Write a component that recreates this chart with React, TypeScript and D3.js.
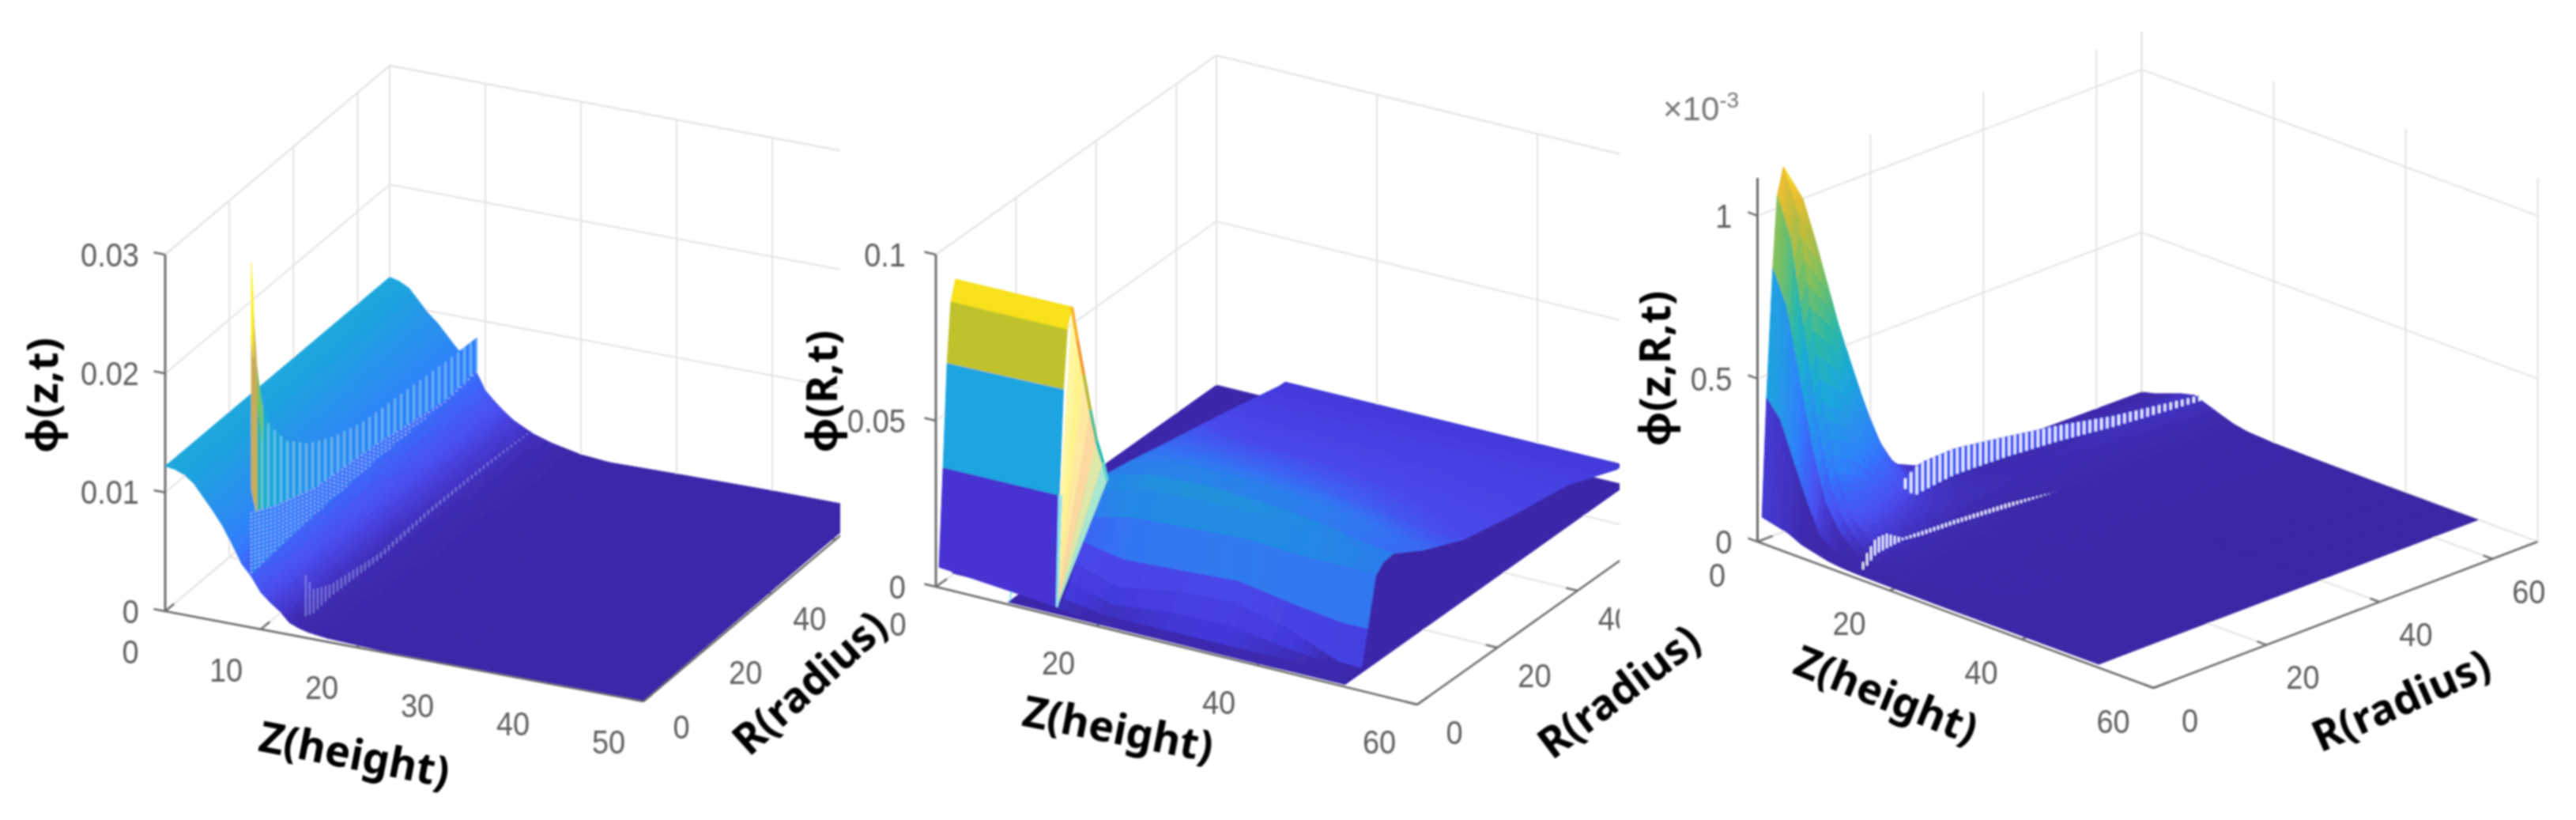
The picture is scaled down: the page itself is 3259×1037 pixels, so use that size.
import React from "react";
import * as d3 from "d3";

// ---------- colour ramps ----------
const rampStops = [0, 0.03, 0.06, 0.1, 0.17, 0.22, 0.33, 0.41, 0.55, 0.7, 0.85, 0.93, 1];
const rampColors = ["#3c26a6", "#3d2bb0", "#4438d0", "#4a4ff0", "#3a68f8", "#2f80fb", "#2596e8", "#1aa8dc", "#2bb8a8", "#7cc060", "#c8bc38", "#f0c030", "#f9ee20"];
const ramp2Stops = [0, 0.03, 0.07, 0.2, 0.28, 0.39, 0.55, 0.7, 0.85, 1];
const ramp2Colors = ["#3b27a8", "#3c2cb0", "#4238d8", "#4a48ea", "#3572f5", "#2090e0", "#2bb8a8", "#7cc060", "#c8bc38", "#f9ee20"];

// ---------- panel 1 : phi(z,t) ----------
const p1ZTicks = [0, 10, 20, 30, 40, 50];
const p1RTicks = [0, 20, 40, 60];
const p1PhiTicks = [0, 0.01, 0.02, 0.03];
const p1PhiLabels = ["0", "0.01", "0.02", "0.03"];
const p1Z = [0, 1, 2, 3, 4, 5, 6, 7, 8, 9, 10, 11, 12, 13, 14, 15, 17, 20, 23, 30, 40, 50];
const p1R = [0, 70];
const p1NearR = [0.0122, 0.0121, 0.0118, 0.0112, 0.0102, 0.0092, 0.0081, 0.0067, 0.0052, 0.0043, 0.0031, 0.0024, 0.0018, 0.001, 0.0007, 0.0005, 0.0003, 0.0002, 0.0001, 0.0001, 0.0001, 0.0001];
const p1FarR = [0.0122, 0.012, 0.0116, 0.0107, 0.0098, 0.0091, 0.0082, 0.0073, 0.0066, 0.0057, 0.0042, 0.0034, 0.0027, 0.0021, 0.0017, 0.0013, 0.0008, 0.0003, 0.0001, 0.0002, 0.0003, 0.0003];
const p1SpikeZ = 9;
const p1YellowR = [0, 0.7];
const p1YellowTop = [0.0307, 0.0272];
const p1YellowBot = [0.0243, 0.0225];
const p1GoldR = [0, 0.7, 1.8];
const p1GoldTop = [0.0243, 0.0262, 0.0214];
const p1GoldBot = [0.0117, 0.0105, 0.0093];
const p1GreenR = [1.8, 3.5];
const p1GreenTop = [0.0214, 0.0176];
const p1GreenBot = [0.0185, 0.015];
const p1Fin1R = [1.4, 3, 5.5, 11, 18, 26, 34.6, 48, 60.7, 70];
const p1Fin1Top = [0.0214, 0.0184, 0.0158, 0.0132, 0.0114, 0.0102, 0.0094, 0.009, 0.0086, 0.0084];
const p1Fin1Bot = [0.0095, 0.0092, 0.0088, 0.008, 0.0073, 0.0069, 0.0065, 0.006, 0.0054, 0.0056];
const p1Fin2R = [0, 7, 20, 40, 60, 70];
const p1Fin2Top = [0.0097, 0.0086, 0.0072, 0.0065, 0.0053, 0.0056];
const p1Fin2Bot = [0.0045, 0.0047, 0.005, 0.0052, 0.0052, 0.0054];
const p1Fin3Z = 14.7;
const p1Fin3R = [0, 2.5, 8, 23, 39.6, 56, 70];
const p1Fin3Top = [0.0053, 0.0035, 0.0027, 0.0019, 0.0021, 0.0019, 0.0015];
const p1Fin3Bot = [0.0018, 0.0015, 0.0017, 0.0014, 0.0017, 0.0016, 0.0014];

// ---------- panel 2 : phi(R,t) ----------
const p2ZTicks = [0, 20, 40, 60];
const p2RTicks = [0, 20, 40, 60];
const p2PhiTicks = [0, 0.05, 0.1];
const p2PhiLabels = ["0", "0.05", "0.1"];
const p2FloorZ = [9, 51];
const p2FloorR = [0, 70];
const p2BackFloorZ = [0, 9];
const p2BackFloorR = [4, 70];
const p2MainR = [0, 1.5, 3, 4.5, 6, 8, 10, 12.5, 20, 30, 43, 56, 68, 70];
const p2MainZStart = [15.2, 15.2, 15.2, 15.1, 15.1, 15, 15, 15, 14.2, 13, 11.7, 10.2, 8.8, 8.6];
const p2MainZEnd = 50.8;
const p2MainCols = [0, 0.15, 0.35, 0.55, 0.75, 0.92, 1];
const p2MainPhi = [
  [0.0025, 0.001, 0.0008, 0.0006, 0.0006, 0.001, 0.0015],
  [0.004, 0.002, 0.002, 0.002, 0.002, 0.0018, 0.0016],
  [0.008, 0.004, 0.006, 0.0065, 0.004, 0.002, 0.0016],
  [0.012, 0.008, 0.011, 0.012, 0.008, 0.0018, 0.0016],
  [0.0175, 0.015, 0.016, 0.017, 0.014, 0.012, 0.0122],
  [0.023, 0.026, 0.027, 0.028, 0.027, 0.027, 0.0265],
  [0.029, 0.033, 0.034, 0.034, 0.033, 0.031, 0.029],
  [0.032, 0.035, 0.036, 0.035, 0.033, 0.03, 0.0294],
  [0.029, 0.031, 0.031, 0.03, 0.028, 0.025, 0.024],
  [0.0243, 0.0245, 0.024, 0.023, 0.021, 0.019, 0.0186],
  [0.0189, 0.018, 0.0175, 0.017, 0.016, 0.0155, 0.0152],
  [0.013, 0.013, 0.013, 0.013, 0.013, 0.0127, 0.0127],
  [0.0073, 0.0073, 0.0072, 0.0072, 0.0071, 0.007, 0.007],
  [0.0067, 0.0067, 0.0067, 0.0067, 0.0067, 0.0067, 0.0067],
];
const p2BlockZ = [0, 14.5];
const p2BlockR = [0.8, 1.8, 2.8, 3.75, 4.9];
const p2BlockStart = [0.0052, 0.0342, 0.0648, 0.0825, 0.0884];
const p2BlockEnd = [0.002, 0.0344, 0.0655, 0.0827, 0.0886];
const p2BlockColors = ["#4632d2", "#1ea5e0", "#bfc22a", "#f6e11e"];
const p2FanApex = [14.7, 0.8, 0.002];
const p2FanZ = [14.5, 15.2, 16, 16.8, 17.6, 18.4, 18.9];
const p2FanPhi = [0.0886, 0.079, 0.069, 0.059, 0.05, 0.044, 0.039];
const p2FanColors = ["#fff7a0", "#fff38e", "#ffe8a0", "#fdd9a0", "#dfe8a8", "#a8e8d0"];
const p2EdgeColors = ["#f6b020", "#f09a30", "#b8b830", "#50c090", "#18b8b0", "#60d8d0"];
const p2SmallZ = 9.2;
const p2SmallR = [0, 1.2, 2.2];
const p2SmallTop = [0.002, 0.012, 0.012];
const p2SmallBot = [0.001, 0.006, 0.0105];

// ---------- panel 3 : phi(z,R,t) ----------
const p3ZTicks = [0, 20, 40, 60];
const p3RTicks = [0, 20, 40, 60];
const p3PhiTicks = [0, 0.5, 1];
const p3PhiLabels = ["0", "0.5", "1"];
const p3R = [0.8, 1.6, 2.7, 3.5, 4.6, 8, 12, 18, 21, 24, 29, 36, 44, 56, 68];
const p3Z = [0, 2, 4, 6, 8, 10, 12, 14, 16, 20, 26, 34, 51];
const p3Phi = [
  [0.07, 0.43, 0.82, 1.04, 1.12, 1.0, 0.68, 0.27, 0.14, 0.08, 0.04, 0.025, 0.015, 0.012, 0.01],
  [0.06, 0.38, 0.72, 0.92, 1.0, 0.88, 0.6, 0.24, 0.13, 0.075, 0.04, 0.03, 0.022, 0.02, 0.02],
  [0.05, 0.27, 0.52, 0.66, 0.72, 0.64, 0.44, 0.18, 0.1, 0.065, 0.04, 0.033, 0.03, 0.03, 0.035],
  [0.03, 0.16, 0.31, 0.4, 0.44, 0.39, 0.27, 0.12, 0.075, 0.055, 0.04, 0.035, 0.035, 0.04, 0.05],
  [0.02, 0.07, 0.16, 0.21, 0.24, 0.21, 0.15, 0.08, 0.06, 0.05, 0.04, 0.037, 0.037, 0.045, 0.06],
  [0.01, 0.04, 0.09, 0.12, 0.14, 0.13, 0.09, 0.06, 0.05, 0.045, 0.04, 0.036, 0.035, 0.04, 0.045],
  [0.005, 0.025, 0.05, 0.07, 0.085, 0.08, 0.06, 0.045, 0.04, 0.035, 0.03, 0.028, 0.025, 0.028, 0.03],
  [0.003, 0.012, 0.03, 0.04, 0.05, 0.05, 0.04, 0.03, 0.028, 0.025, 0.02, 0.018, 0.016, 0.016, 0.016],
  [0.002, 0.006, 0.015, 0.02, 0.027, 0.03, 0.025, 0.02, 0.018, 0.015, 0.012, 0.01, 0.009, 0.008, 0.008],
  [0.001, 0.002, 0.004, 0.006, 0.009, 0.012, 0.01, 0.008, 0.007, 0.006, 0.005, 0.004, 0.003, 0.003, 0.003],
  [0.0, 0.001, 0.001, 0.002, 0.003, 0.004, 0.004, 0.003, 0.003, 0.002, 0.002, 0.001, 0.001, 0.001, 0.001],
  [0, 0, 0, 0, 0.001, 0.001, 0.001, 0.001, 0.001, 0.001, 0, 0, 0, 0, 0],
  [0, 0, 0, 0, 0, 0, 0, 0, 0, 0, 0, 0, 0, 0, 0],
];
const p3FinAZ = 8.76;
const p3FinAR = [14.9, 17.6, 18.6, 24.6, 34, 43.3, 52.7, 68];
const p3FinATop = [0.142, 0.175, 0.185, 0.189, 0.164, 0.137, 0.103, 0.065];
const p3FinABot = [0.142, 0.09, 0.095, 0.109, 0.103, 0.09, 0.07, 0.048];
const p3FinBZ = 15.4;
const p3FinBR = [0, 1.1, 3, 4.9, 7.7, 11, 17, 26, 34.7];
const p3FinBTop = [0.02, 0.064, 0.107, 0.107, 0.076, 0.074, 0.07, 0.06, 0.039];
const p3FinBBot = [0.02, 0.028, 0.058, 0.063, 0.069, 0.062, 0.058, 0.047, 0.039];

// ---------- page ----------
const WIDTH = 3259;
const HEIGHT = 1037;
const TICK_FONT = "'Liberation Sans', Arial, sans-serif";
const LABEL_FONT = "'Noto Sans', 'Open Sans', sans-serif";

const ramp = d3.scaleLinear<string>().domain(rampStops).range(rampColors).clamp(true);
const ramp2 = d3.scaleLinear<string>().domain(ramp2Stops).range(ramp2Colors).clamp(true);

type Geo = {
  ox: number; oy: number; zx: number; zy: number; rx: number; ry: number; h: number;
  zMax: number; rMax: number; phiMax: number; colorMax: number; colors: (t: number) => string;
};

function projector(g: Geo) {
  const zs = d3.scaleLinear().domain([0, g.zMax]).range([0, 1]);
  const rs = d3.scaleLinear().domain([0, g.rMax]).range([0, 1]);
  const ps = d3.scaleLinear().domain([0, g.phiMax]).range([0, g.h]);
  return (z: number, r: number, p: number): [number, number] => [
    g.ox + zs(z) * g.zx + rs(r) * g.rx,
    g.oy + zs(z) * g.zy + rs(r) * g.ry - ps(p),
  ];
}

function poly(pts: [number, number][]) {
  const path = d3.path();
  pts.forEach((q, i) => (i ? path.lineTo(q[0], q[1]) : path.moveTo(q[0], q[1])));
  path.closePath();
  return path.toString();
}

type Vtx = [number, number, number];

// rows run along R, columns along Z; painted far (high R) to near, low Z to high Z.
// The first flatRows rows take the colour of one edge (flatEdge), like MATLAB's faceted cells.
function Mesh({ g, rows, su, sv, flat, flatRows = 0, flatEdge = 0 }: { g: Geo; rows: Vtx[][]; su: number; sv: number; flat?: (i: number) => string; flatRows?: number; flatEdge?: number }) {
  const proj = projector(g);
  const color = (p: number) => g.colors(p / g.colorMax);
  const out: React.ReactNode[] = [];
  const at = (i: number, j: number, u: number, v: number): Vtx => {
    const a = rows[i][j], b = rows[i][j + 1], c = rows[i + 1][j], d = rows[i + 1][j + 1];
    const m = (k: number) => (1 - v) * ((1 - u) * a[k] + u * b[k]) + v * ((1 - u) * c[k] + u * d[k]);
    return [m(0), m(1), m(2)];
  };
  for (let i = rows.length - 2; i >= 0; i--) {
    for (let sr = sv - 1; sr >= 0; sr--) {
      for (let j = 0; j < rows[i].length - 1; j++) {
        for (let sz = 0; sz < su; sz++) {
          const u0 = sz / su, u1 = (sz + 1) / su, v0 = sr / sv, v1 = (sr + 1) / sv;
          const q = [at(i, j, u0, v0), at(i, j, u1, v0), at(i, j, u1, v1), at(i, j, u0, v1)];
          const mean = i < flatRows
            ? at(i, j, (u0 + u1) / 2, flatEdge)[2]
            : (q[0][2] + q[1][2] + q[2][2] + q[3][2]) / 4;
          const fill = flat ? flat(i) : color(mean);
          out.push(
            <path key={`${i}-${sr}-${j}-${sz}`} d={poly(q.map((t) => proj(t[0], t[1], t[2])))} fill={fill} stroke={fill} strokeWidth={1} />
          );
        }
      }
    }
  }
  return <g>{out}</g>;
}

function Solid({ g, z, rs, top, bot, fill }: { g: Geo; z: number; rs: number[]; top: number[]; bot: number[]; fill: string }) {
  const proj = projector(g);
  const pts: [number, number][] = [
    ...rs.map((r, i) => proj(z, r, top[i])),
    ...rs.map((r, i) => proj(z, r, bot[i])).reverse(),
  ];
  return <path d={poly(pts)} fill={fill} stroke={fill} strokeWidth={0.6} />;
}

// a thin fin in the plane z = const, shown as the aliased stripes of the original mesh
function Fin({ g, z, rs, top, bot, spacing, stripe, width, opacity, dash, backing }: {
  g: Geo; z: number; rs: number[]; top: number[]; bot: number[]; spacing: number; stripe: string;
  width: number; opacity: number; dash?: string; backing?: number;
}) {
  const proj = projector(g);
  const tScale = d3.scaleLinear().domain(rs).range(top);
  const bScale = d3.scaleLinear().domain(rs).range(bot);
  const pxPerR = Math.abs(g.rx / g.rMax);
  const step = spacing / pxPerR;
  const samples = d3.range(rs[0], rs[rs.length - 1] + step * 0.5, step);
  const back = samples.slice(0, -1).map((r, i) => {
    const r2 = samples[i + 1];
    const p = (tScale(r) + bScale(r)) / 2;
    const fill = g.colors(p / g.colorMax);
    return (
      <path key={`b${i}`} d={poly([proj(z, r, tScale(r)), proj(z, r2, tScale(r2)), proj(z, r2, bScale(r2)), proj(z, r, bScale(r))])}
        fill={fill} stroke={fill} strokeWidth={0.6} opacity={backing ?? 1} />
    );
  });
  const lines = samples.map((r, i) => {
    const a = proj(z, r, tScale(r));
    const b = proj(z, r, bScale(r));
    return <line key={`s${i}`} x1={a[0]} y1={a[1]} x2={b[0]} y2={b[1]} stroke={stripe} strokeWidth={width} opacity={opacity} strokeDasharray={dash} />;
  });
  return <g>{back}{lines}</g>;
}

function Box({ g, zTicks, rTicks, phiTicks, gridTop }: {
  g: Geo; zTicks: number[]; rTicks: number[]; phiTicks: number[]; gridTop: boolean;
}) {
  const proj = projector(g);
  const grid = "#e3e3e3";
  const seg = (a: [number, number], b: [number, number], key: string, stroke = grid, w = 2) => (
    <line key={key} x1={a[0]} y1={a[1]} x2={b[0]} y2={b[1]} stroke={stroke} strokeWidth={w} />
  );
  const gridLines: React.ReactNode[] = [];
  zTicks.forEach((z) => {
    gridLines.push(seg(proj(z, 0, 0), proj(z, g.rMax, 0), `fz${z}`));
    gridLines.push(seg(proj(z, g.rMax, 0), proj(z, g.rMax, g.phiMax), `wz${z}`));
  });
  rTicks.forEach((r) => {
    gridLines.push(seg(proj(0, r, 0), proj(g.zMax, r, 0), `fr${r}`));
    gridLines.push(seg(proj(0, r, 0), proj(0, r, g.phiMax), `wr${r}`));
  });
  phiTicks.forEach((p) => {
    gridLines.push(seg(proj(0, 0, p), proj(0, g.rMax, p), `lp${p}`));
    gridLines.push(seg(proj(0, g.rMax, p), proj(g.zMax, g.rMax, p), `bp${p}`));
  });
  gridLines.push(seg(proj(0, g.rMax, 0), proj(0, g.rMax, g.phiMax), "corner"));
  if (gridTop) {
    gridLines.push(seg(proj(0, 0, g.phiMax), proj(0, g.rMax, g.phiMax), "t1"));
    gridLines.push(seg(proj(0, g.rMax, g.phiMax), proj(g.zMax, g.rMax, g.phiMax), "t2"));
  }
  return <g>{gridLines}</g>;
}

function Axes({ g, zTicks, rTicks, phiTicks, phiLabels, zOff, rOff, phiOff }: {
  g: Geo; zTicks: number[]; rTicks: number[]; phiTicks: number[]; phiLabels: string[];
  zOff: [number, number]; rOff: [number, number]; phiOff: number;
}) {
  const proj = projector(g);
  const axis = "#6a6a6a";
  const seg = (a: [number, number], b: [number, number], key: string, w = 2.5) => (
    <line key={key} x1={a[0]} y1={a[1]} x2={b[0]} y2={b[1]} stroke={axis} strokeWidth={w} />
  );
  const dz = g.zMax * 0.024;
  const dr = g.rMax * 0.04;
  const label = (x: number, y: number, s: string, anchor: string, key: string) => (
    <text key={key} transform={`translate(${x},${y}) scale(1,1.12)`} textAnchor={anchor} dominantBaseline="central"
      fontFamily={TICK_FONT} fontSize={38} fill="#5e5e5e">{s}</text>
  );
  return (
    <g>
      {seg(proj(0, 0, 0), proj(g.zMax, 0, 0), "zaxis")}
      {seg(proj(g.zMax, 0, 0), proj(g.zMax, g.rMax, 0), "raxis")}
      {seg(proj(0, 0, 0), proj(0, 0, g.phiMax), "paxis", 3)}
      {zTicks.map((z) => {
        const a = proj(z, 0, 0);
        return (
          <g key={`z${z}`}>
            {seg(a, proj(z, dr, 0), `tz${z}`)}
            {label(a[0] + zOff[0], a[1] + zOff[1], String(z), "middle", `lz${z}`)}
          </g>
        );
      })}
      {rTicks.map((r) => {
        const a = proj(g.zMax, r, 0);
        return (
          <g key={`r${r}`}>
            {seg(a, proj(g.zMax - dz, r, 0), `tr${r}`)}
            {label(a[0] + rOff[0], a[1] + rOff[1], String(r), "middle", `lr${r}`)}
          </g>
        );
      })}
      {phiTicks.map((p, i) => {
        const a = proj(0, 0, p);
        return (
          <g key={`p${p}`}>
            {seg(a, proj(-dz, 0, p), `tp${p}`)}
            {label(a[0] + phiOff, a[1], phiLabels[i], "end", `lp${p}`)}
          </g>
        );
      })}
    </g>
  );
}

function AxisTitle({ x, y, rot, children }: { x: number; y: number; rot: number; children: React.ReactNode }) {
  return (
    <text transform={`translate(${x},${y}) rotate(${rot})`} textAnchor="middle" dominantBaseline="central"
      fontFamily={LABEL_FONT} fontWeight={700} fontSize={54} fill="#000">{children}</text>
  );
}

const geo1: Geo = { ox: 209, oy: 773, zx: 605, zy: 114, rx: 284, ry: -239, h: 451, zMax: 50, rMax: 70, phiMax: 0.03, colorMax: 0.03, colors: ramp };
const geo2: Geo = { ox: 1184, oy: 742, zx: 609, zy: 149, rx: 355, ry: -252, h: 420, zMax: 60, rMax: 70, phiMax: 0.1, colorMax: 0.09, colors: ramp2 };
const geo3: Geo = { ox: 2223.5, oy: 685, zx: 501, zy: 185, rx: 486, ry: -185, h: 460, zMax: 60, rMax: 68, phiMax: 1.116, colorMax: 1.12, colors: ramp };

const p1Rows: Vtx[][] = p1R.map((r, i) => p1Z.map((z, j): Vtx => [z, r, (i === 0 ? p1NearR : p1FarR)[j]]));
const p2FloorRows: Vtx[][] = p2FloorR.map((r) => p2FloorZ.map((z): Vtx => [z, r, 0.0007]));
const p2BackRows: Vtx[][] = p2BackFloorR.map((r) => p2BackFloorZ.map((z): Vtx => [z, r, 0.0007]));
const p2MainRows: Vtx[][] = p2MainR.map((r, i) =>
  p2MainCols.map((c, j): Vtx => [p2MainZStart[i] + c * (p2MainZEnd - p2MainZStart[i]), r, p2MainPhi[i][j]])
);
const p2BlockRows: Vtx[][] = p2BlockR.map((r, i) => [[p2BlockZ[0], r, p2BlockStart[i]] as Vtx, [p2BlockZ[1], r, p2BlockEnd[i]] as Vtx]);
const p3Rows: Vtx[][] = p3R.map((r, i) => p3Z.map((z, j): Vtx => [z, r, p3Phi[j][i]]));

function Fan() {
  const proj = projector(geo2);
  const rim = p2FanZ.map((z, i) => proj(z, p2BlockR[4], p2FanPhi[i]));
  const apex = proj(p2FanApex[0], p2FanApex[1], p2FanApex[2]);
  return (
    <g>
      {p2FanColors.map((c, i) => (
        <path key={i} d={poly([apex, rim[i], rim[i + 1]])} fill={c} stroke={c} strokeWidth={0.6} />
      ))}
      {p2EdgeColors.map((c, i) => (
        <line key={`e${i}`} x1={rim[i][0]} y1={rim[i][1]} x2={rim[i + 1][0]} y2={rim[i + 1][1]} stroke={c} strokeWidth={4} />
      ))}
      <path d={poly([apex, proj(14.5, 4.9, 0.0886), proj(14.6, 1.6, 0.03)])} fill="#fff7a0" />
      <path d={poly([apex, proj(14.5, 1.8, 0.0344), proj(14.75, 1.7, 0.0344)])} fill="#8fe0f0" stroke="#8fe0f0" strokeWidth={3} />
    </g>
  );
}

export default function App() {
  return (
    <svg width={WIDTH} height={HEIGHT} viewBox={`0 0 ${WIDTH} ${HEIGHT}`} style={{ position: "absolute", left: 0, top: 0, background: "#fff" }}>
      <defs>
        <clipPath id="c1"><rect x={0} y={0} width={1063} height={HEIGHT} /></clipPath>
        <clipPath id="c2"><rect x={1063} y={0} width={986} height={HEIGHT} /></clipPath>
        <clipPath id="c3"><rect x={2049} y={0} width={1210} height={HEIGHT} /></clipPath>
        <filter id="soft" x="0" y="0" width="100%" height="100%" filterUnits="objectBoundingBox"><feGaussianBlur stdDeviation={0.8} /></filter>
      </defs>
      <g filter="url(#soft)">
        {/* panel 1 */}
        <g clipPath="url(#c1)">
          <Box g={geo1} zTicks={p1ZTicks} rTicks={p1RTicks} phiTicks={p1PhiTicks} gridTop />
          <Axes g={geo1} zTicks={p1ZTicks} rTicks={p1RTicks} phiTicks={p1PhiTicks} phiLabels={p1PhiLabels} zOff={[-44, 51]} rOff={[48, 32]} phiOff={-33} />
          <Mesh g={geo1} rows={p1Rows} su={3} sv={16} />
          <Fin g={geo1} z={p1SpikeZ} rs={p1Fin1R} top={p1Fin1Top} bot={p1Fin1Bot} spacing={8} stripe="#b4e0fb" width={2.6} opacity={0.5} />
          <Fin g={geo1} z={p1SpikeZ} rs={p1Fin2R} top={p1Fin2Top} bot={p1Fin2Bot} spacing={5} stripe="#b6bcfb" width={2.5} opacity={0.85} dash="2 3" />
          <Solid g={geo1} z={p1SpikeZ} rs={p1GreenR} top={p1GreenTop} bot={p1GreenBot} fill="#6fc46a" />
          <Solid g={geo1} z={p1SpikeZ} rs={p1GoldR} top={p1GoldTop} bot={p1GoldBot} fill="#c8ad58" />
          <Solid g={geo1} z={p1SpikeZ} rs={p1YellowR} top={p1YellowTop} bot={p1YellowBot} fill="#f7f020" />
          <Fin g={geo1} z={p1Fin3Z} rs={p1Fin3R} top={p1Fin3Top} bot={p1Fin3Bot} spacing={5} stripe="#9a9cf5" width={2} opacity={0.65} backing={0} />
        </g>
        {/* panel 2 */}
        <g clipPath="url(#c2)">
          <Box g={geo2} zTicks={p2ZTicks} rTicks={p2RTicks} phiTicks={p2PhiTicks} gridTop />
          <Axes g={geo2} zTicks={p2ZTicks} rTicks={p2RTicks} phiTicks={p2PhiTicks} phiLabels={p2PhiLabels} zOff={[-48, 47]} rOff={[47, 35]} phiOff={-38} />
          <Mesh g={geo2} rows={p2BackRows} su={1} sv={1} />
          <Mesh g={geo2} rows={p2FloorRows} su={1} sv={1} />
          <Solid g={geo2} z={p2SmallZ} rs={p2SmallR} top={p2SmallTop} bot={p2SmallBot} fill="#7fdcf0" />
          <Mesh g={geo2} rows={p2MainRows} su={6} sv={6} flatRows={8} flatEdge={1} />
          <Mesh g={geo2} rows={p2BlockRows} su={1} sv={1} flat={(i) => p2BlockColors[i]} />
          <Fan />
        </g>
        {/* panel 3 */}
        <g clipPath="url(#c3)">
          <Box g={geo3} zTicks={p3ZTicks} rTicks={p3RTicks} phiTicks={p3PhiTicks} gridTop={false} />
          <Axes g={geo3} zTicks={p3ZTicks} rTicks={p3RTicks} phiTicks={p3PhiTicks} phiLabels={p3PhiLabels} zOff={[-51, 42]} rOff={[46, 41]} phiOff={-32} />
          <Mesh g={geo3} rows={p3Rows} su={4} sv={4} flatRows={4} />
          <Fin g={geo3} z={p3FinAZ} rs={p3FinAR} top={p3FinATop} bot={p3FinABot} spacing={7.3} stripe="#ffffff" width={3} opacity={0.92} />
          <Fin g={geo3} z={p3FinBZ} rs={p3FinBR} top={p3FinBTop} bot={p3FinBBot} spacing={5} stripe="#ffffff" width={2.6} opacity={0.9} />
        </g>
        <text x={2104} y={152} fontFamily={TICK_FONT} fontSize={42} fill="#777">×10<tspan dy={-16} fontSize={28}>-3</tspan></text>
        <AxisTitle x={52} y={500} rot={-90}>ϕ(z,t)</AxisTitle>
        <AxisTitle x={449} y={952} rot={11}>Z(height)</AxisTitle>
        <AxisTitle x={1023} y={862} rot={-42}>R(radius)</AxisTitle>
        <AxisTitle x={1038} y={495} rot={-90}>ϕ(R,t)</AxisTitle>
        <AxisTitle x={1415} y={920} rot={11}>Z(height)</AxisTitle>
        <AxisTitle x={2047} y={873} rot={-37}>R(radius)</AxisTitle>
        <AxisTitle x={2092} y={466} rot={-90}>ϕ(z,R,t)</AxisTitle>
        <AxisTitle x={2387} y={877} rot={22}>Z(height)</AxisTitle>
        <AxisTitle x={3037} y={884} rot={-24}>R(radius)</AxisTitle>
      </g>
    </svg>
  );
}
